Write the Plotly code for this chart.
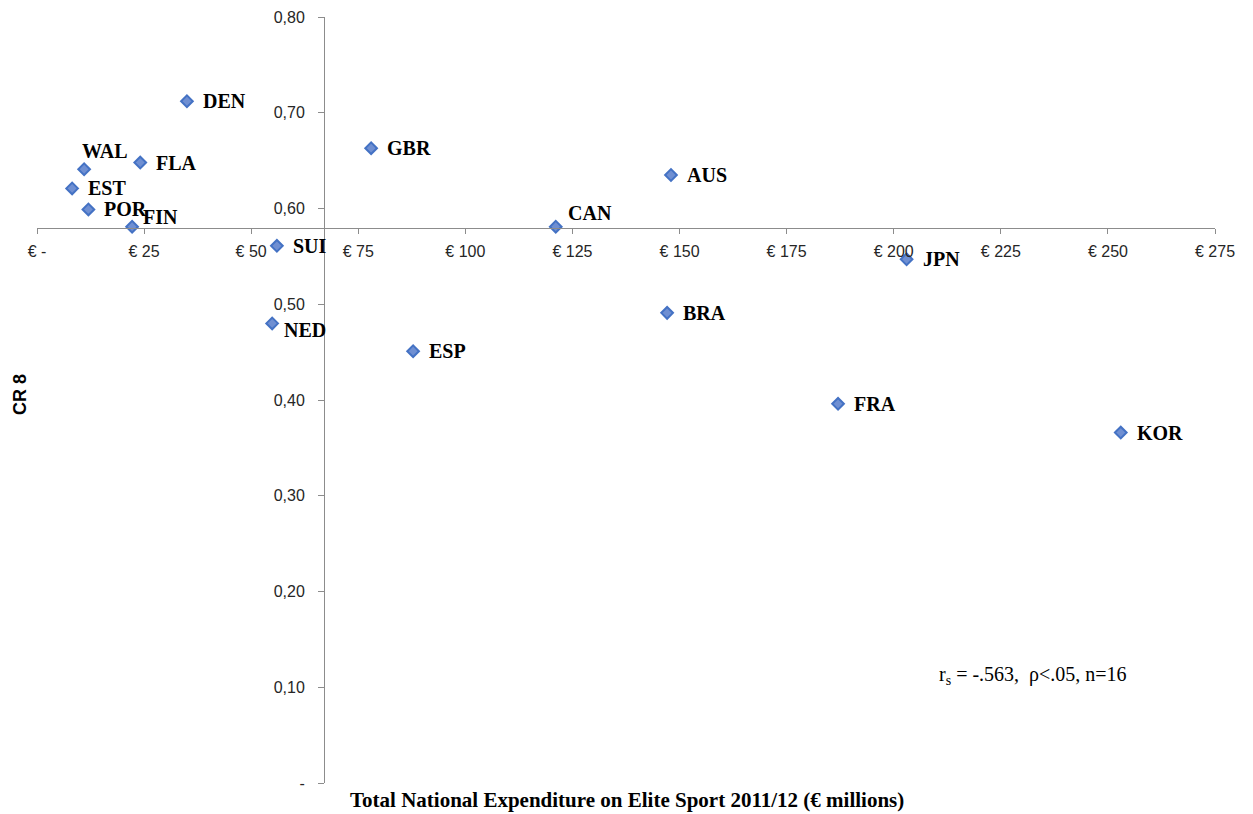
import plotly.graph_objects as go

countries = ["DEN", "GBR", "AUS", "CAN", "WAL", "FLA", "EST", "POR", "FIN",
             "SUI", "JPN", "NED", "BRA", "ESP", "FRA", "KOR"]
expenditure = [35.0, 78.0, 148.0, 121.1, 11.0, 24.1, 8.2, 12.0, 22.2,
               56.0, 203.0, 54.9, 147.1, 87.8, 187.0, 253.0]
cr8 = [0.712, 0.663, 0.635, 0.581, 0.641, 0.648, 0.621, 0.599, 0.581,
       0.561, 0.547, 0.480, 0.491, 0.451, 0.396, 0.366]

x_tickvals = [0, 25, 50, 75, 100, 125, 150, 175, 200, 225, 250, 275]
x_ticktext = ["€ -", "€ 25", "€ 50", "€ 75", "€ 100", "€ 125", "€ 150", "€ 175",
              "€ 200", "€ 225", "€ 250", "€ 275"]
y_tickvals = [0, 0.1, 0.2, 0.3, 0.4, 0.5, 0.6, 0.7, 0.8]
y_ticktext = ["-", "0,10", "0,20", "0,30", "0,40", "0,50", "0,60", "0,70", "0,80"]

x_cross = 67      # vertical axis crosses at € 67
y_cross = 0.58    # horizontal axis crosses at 0.58
x_range = [0, 275]
y_range = [0, 0.8]

# label offsets (pixels): xshift, yshift, anchor
label_style = {
    "WAL": (-4, 18, "left"),
    "CAN": (10, 14, "left"),
    "FIN": (9, 10, "left"),
    "NED": (10, -7, "left"),
}

L, R, T, B = 37, 38, 17, 31
W, H = 1253, 814
PW, PH = W - L - R, H - T - B

fig = go.Figure()
fig.add_trace(go.Scatter(
    x=expenditure, y=cr8, mode="markers",
    marker=dict(symbol="diamond", size=9, color="#6f8fd2",
                line=dict(color="#4472C4", width=2)),
    hoverinfo="text", text=countries, showlegend=False,
))

for c, xv, yv in zip(countries, expenditure, cr8):
    xs, ys, anc = label_style.get(c, (14, 0, "left"))
    fig.add_annotation(
        x=xv, y=yv, xref="x", yref="y", text=c, showarrow=False,
        xanchor=anc, yanchor="middle", xshift=xs, yshift=ys,
        font=dict(family="Liberation Serif", size=20, color="black", weight="bold"),
    )

tick_font = dict(family="Liberation Sans", size=16, color="#262626")
fig.update_layout(
    width=W, height=H,
    margin=dict(l=L, r=R, t=T, b=B, autoexpand=False),
    paper_bgcolor="white", plot_bgcolor="white",
    xaxis=dict(
        range=x_range, tickvals=x_tickvals, ticktext=x_ticktext,
        showgrid=False, zeroline=False, showline=True, linecolor="#8c8c8c",
        linewidth=1, ticks="outside", ticklen=5, tickcolor="#8c8c8c",
        anchor="free", position=(y_cross - y_range[0]) / (y_range[1] - y_range[0]),
        tickfont=tick_font, automargin=False, ticklabelstandoff=4,
    ),
    yaxis=dict(
        range=y_range, tickvals=y_tickvals, ticktext=y_ticktext,
        showgrid=False, zeroline=False, showline=True, linecolor="#8c8c8c",
        linewidth=1, ticks="outside", ticklen=6, tickcolor="#8c8c8c",
        anchor="free", position=(x_cross - x_range[0]) / (x_range[1] - x_range[0]),
        tickfont=tick_font, ticklabelstandoff=10, automargin=False,
    ),
)

fig.add_annotation(
    x=(627 - L) / PW, y=1 - (800 - T) / PH, xref="paper", yref="paper", showarrow=False,
    text="Total National Expenditure on Elite Sport 2011/12 (€ millions)",
    xanchor="center", yanchor="middle",
    font=dict(family="Liberation Serif", size=21, color="black", weight="bold"),
)
fig.add_annotation(
    x=(20 - L) / PW, y=1 - (395 - T) / PH, xref="paper", yref="paper", showarrow=False,
    text="CR 8", textangle=-90, xanchor="center", yanchor="middle",
    font=dict(family="Liberation Sans", size=18, color="black", weight="bold"),
)
fig.add_annotation(
    x=(1033 - L) / PW, y=1 - (675 - T) / PH, xref="paper", yref="paper", showarrow=False,
    text="r<sub>s</sub> = -.563,  ρ<.05, n=16",
    xanchor="center", yanchor="middle",
    font=dict(family="Liberation Serif", size=20, color="black"),
)

fig.write_html("out.html", config={"displayModeBar": False},
               post_script="document.body.style.margin='0';document.body.style.overflow='hidden';")
